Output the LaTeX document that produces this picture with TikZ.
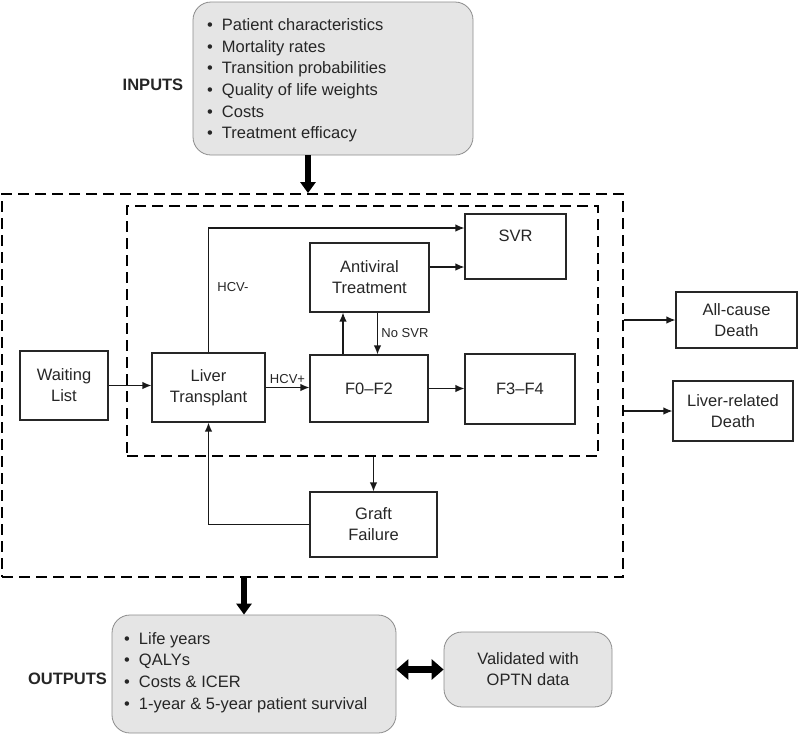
\documentclass[tikz,border=0pt]{standalone}
\usepackage{fontspec}
\setmainfont{Liberation Sans}
\usetikzlibrary{arrows.meta}
\begin{document}
\begin{tikzpicture}[x=1pt,y=-1pt,line cap=butt,line join=miter,>={Latex[length=9pt,width=7.5pt]},font=\fontsize{16.5}{21}\selectfont,text=black!85]
	\tikzset{state/.style={draw=black!85,line width=1.1pt,align=center,inner sep=0pt},
		grey/.style={draw=black!45,fill=black!10,rounded corners=18pt,line width=0.8pt,inner sep=0pt},
		zone/.style={draw=black,line width=1.8pt,dash pattern=on 11pt off 6pt,inner sep=0pt},
		link/.style={->,line width=1.3pt,draw=black!90},
		fat/.style={line width=6pt,draw=black,-{Triangle[length=11pt,width=15pt]}},
		lab/.style={font=\fontsize{13}{15}\selectfont},
		item/.style={anchor=west,inner sep=0pt,text height=12pt,text depth=3.5pt}}
	\useasboundingbox (0,0) rectangle (800,737);
	% dashed model areas
	\node (outer) [zone,minimum width=621pt,minimum height=383pt] at (312.5,385.5) {};
	\node (inner) [zone,minimum width=471pt,minimum height=250pt] at (362.5,331) {};
	% states
	\node (wl) [state,minimum width=88pt,minimum height=69pt] at (64,385.5) {Waiting\\List};
	\node (lt) [state,minimum width=113pt,minimum height=69pt] at (208.5,387.5) {Liver\\Transplant};
	\node (f02) [state,minimum width=118pt,minimum height=67pt] at (369,388.5) {F0--F2};
	\node (f34) [state,minimum width=110pt,minimum height=70pt] at (520,389) {F3--F4};
	\node (av) [state,minimum width=119pt,minimum height=69pt] at (369.5,277.5) {Antiviral\\Treatment};
	\node (svr) [state,minimum width=101pt,minimum height=65pt] at (515.5,246.5) {SVR\\~};
	\node (graft) [state,minimum width=127pt,minimum height=65pt] at (373.5,524.5) {Graft\\Failure};
	\node (death1) [state,minimum width=121pt,minimum height=56pt] at (736.5,320) {All-cause\\Death};
	\node (death2) [state,minimum width=120pt,minimum height=60pt] at (733,411) {Liver-related\\Death};
	% transitions
	\draw[link] (wl.east) -- (wl.east -| lt.west);
	\draw[link] (lt.east) -- (lt.east -| f02.west) node[lab,midway,above] (hcvpos) {HCV+};
	\draw[link] (lt.north) |- ([yshift=18.5pt]svr.west);
	\node (hcvneg) [lab] at (233,287) {HCV-};
	\draw[link] ([xshift=-26pt]f02.north) -- ([xshift=-26pt]f02.north |- av.south);
	\draw[link] ([xshift=8pt]av.south) -- ([xshift=8pt]av.south |- f02.north) node[lab,midway,right] (nosvr) {No SVR};
	\draw[link] ([yshift=10.5pt]av.east) -- ([yshift=10.5pt]av.east -| svr.west);
	\draw[link] (f02.east) -- (f02.east -| f34.west);
	\draw[link] (inner.south -| graft.north) -- (graft.north);
	\draw[link] (graft.west) -| (lt.south);
	\draw[link] (outer.east |- death1) -- (death1);
	\draw[link] (outer.east |- death2) -- (death2);
	% inputs
	\node (inputs) [grey,minimum width=280pt,minimum height=153pt] at (333,78.5) {};
	\node (inlab) [font=\fontsize{16.5}{21}\selectfont\bfseries] at (153,85) {INPUTS};
	\foreach \t [count=\i] in {Patient characteristics,Mortality rates,Transition probabilities,Quality of life weights,Costs,Treatment efficacy}
		\node (in\i) [item] at (207,{4.5+21.7*\i}) {\textbullet\hspace{9pt}\t};
	\draw[fat] ([xshift=-25pt]inputs.south) -- ([xshift=-25pt]inputs.south |- outer.north);
	% outputs
	\node (outputs) [grey,minimum width=284pt,minimum height=118pt] at (254,674) {};
	\node (outlab) [font=\fontsize{16.5}{21}\selectfont\bfseries] at (67.5,679) {OUTPUTS};
	\foreach \t [count=\i] in {Life years,QALYs,Costs \& ICER,1-year \& 5-year patient survival}
		\node (out\i) [item] at (124,{618.5+21.6*\i}) {\textbullet\hspace{9pt}\t};
	\draw[fat] ([xshift=-10pt]outputs.north |- outer.south) -- ([xshift=-10pt]outputs.north);
	\node (valid) [grey,align=center,minimum width=168pt,minimum height=75pt] at (528,669.5) {Validated with\\OPTN data};
	\draw[line width=7pt,{Triangle[length=12pt,width=20pt]}-{Triangle[length=12pt,width=20pt]}] (outputs.east |- valid.west) -- (valid.west);
\end{tikzpicture}
\end{document}
